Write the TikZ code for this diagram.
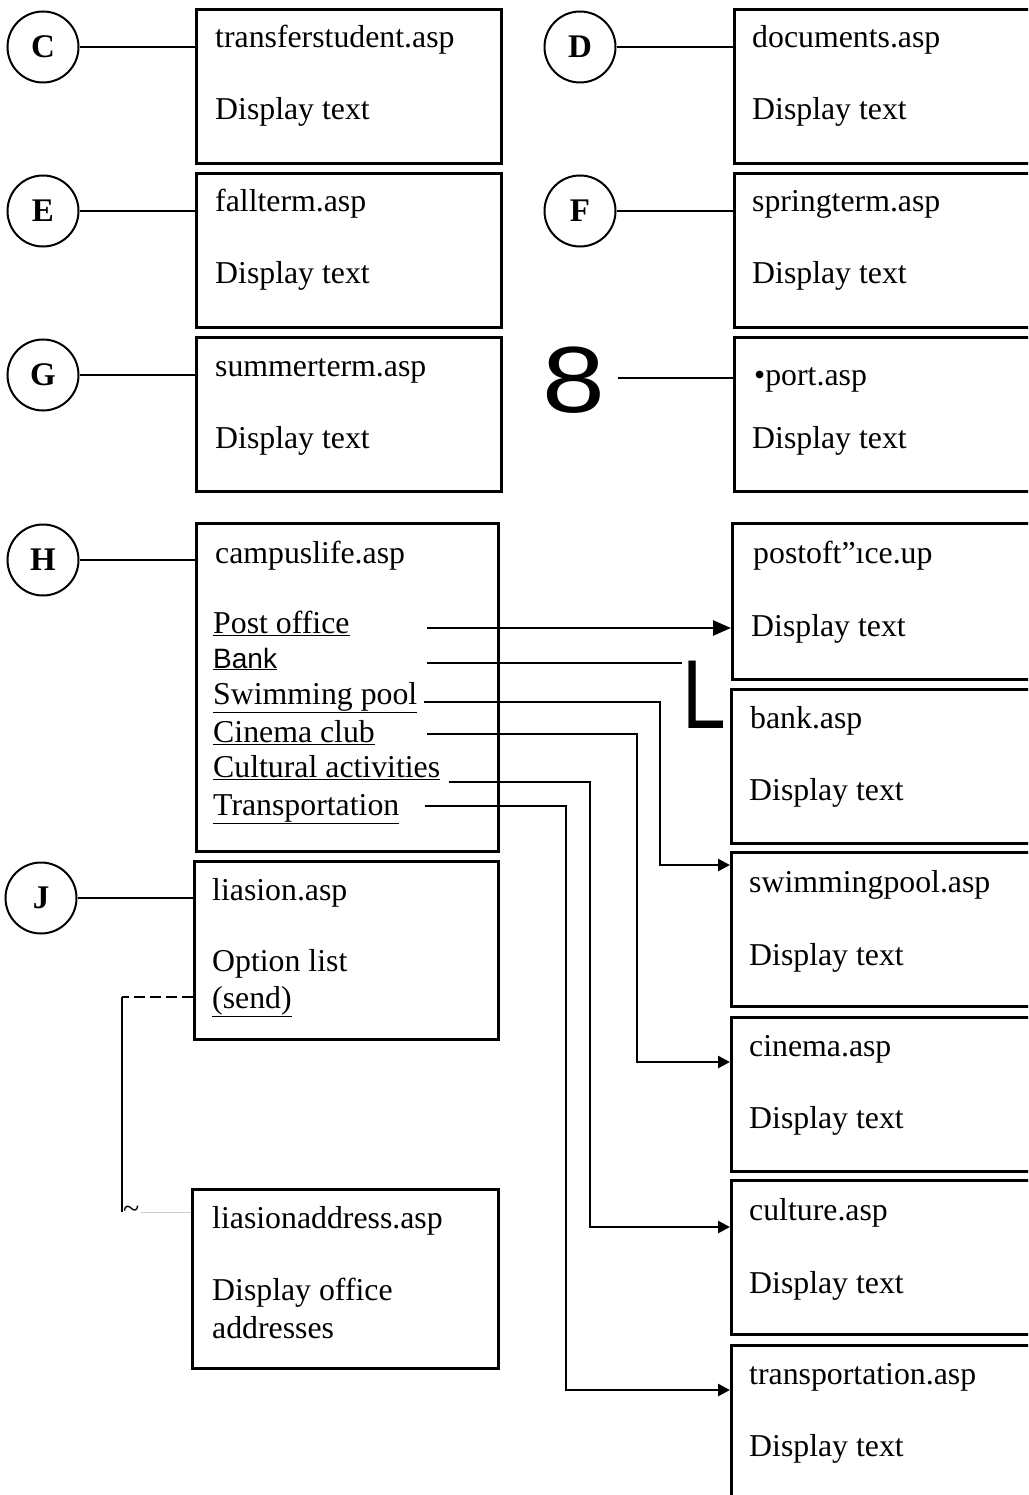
\documentclass[tikz,border=0pt]{standalone}
\usepackage{fontspec}
\setmainfont{Liberation Serif}
\setsansfont{Liberation Sans}
\usetikzlibrary{arrows.meta, positioning}

\begin{document}
\begin{tikzpicture}[
    x=1pt, y=-1pt,
    pagebox/.style={rectangle, draw, line width=2.8pt, anchor=north west, inner sep=0pt, minimum width=305pt, minimum height=154pt},
    sidebox/.style={pagebox, minimum width=340pt},
    circ/.style={circle, draw, line width=2pt, minimum size=71pt, inner sep=0pt, font=\fontsize{33}{33}\selectfont\bfseries},
    pagetext/.style={anchor=base west, inner sep=0pt, font=\fontsize{31.8}{36}\selectfont},
    bigsans/.style={anchor=base west, inner sep=0pt},
    link/.style={line width=2.6pt},
    arrow/.style={link, -{Triangle[length=18pt, width=15pt]}},
    smallarrow/.style={link, -{Triangle[length=12pt, width=12pt]}}
]
    \useasboundingbox (0,0) rectangle (1028,1495);
    \clip (0,0) rectangle (1028,1495);

    % left column
    \node[pagebox] (cbox) at (195,8) {};
    \node[pagetext] (ctitle) at ([shift={(20,40)}]cbox.north west) {transferstudent.asp};
    \node[pagetext] (ctext) at ([shift={(20,112)}]cbox.north west) {Display text};
    \node[pagebox] (ebox) at (195,172) {};
    \node[pagetext] (etitle) at ([shift={(20,40)}]ebox.north west) {fallterm.asp};
    \node[pagetext] (etext) at ([shift={(20,112)}]ebox.north west) {Display text};
    \node[pagebox] (gbox) at (195,336) {};
    \node[pagetext] (gtitle) at ([shift={(20,40)}]gbox.north west) {summerterm.asp};
    \node[pagetext] (gtext) at ([shift={(20,112)}]gbox.north west) {Display text};
    \node[pagebox, minimum width=302pt, minimum height=328pt] (hbox) at (195,522) {};
    \node[pagetext] (htitle) at ([shift={(20,41)}]hbox.north west) {campuslife.asp};
    \node[pagetext] (itpo) at ([shift={(18,111)}]hbox.north west) {\underline{Post office}};
    \node[pagetext, font=\fontsize{28}{32}\sffamily] (itbank) at ([shift={(18,146)}]hbox.north west) {\underline{Bank}};
    \node[pagetext] (itswim) at ([shift={(18,182)}]hbox.north west) {\underline{Swimming pool}};
    \node[pagetext] (itcin) at ([shift={(18,220)}]hbox.north west) {\underline{Cinema club}};
    \node[pagetext] (itcul) at ([shift={(18,255)}]hbox.north west) {\underline{Cultural activities}};
    \node[pagetext] (ittr) at ([shift={(18,293)}]hbox.north west) {\underline{Transportation}};
    \node[pagebox, minimum width=304pt, minimum height=178pt] (jbox) at (193,860) {};
    \node[pagetext] (jtitle) at ([shift={(19,40)}]jbox.north west) {liasion.asp};
    \node[pagetext] (jtext) at ([shift={(19,111)}]jbox.north west) {Option list};
    \node[pagetext] (send) at ([shift={(19,148)}]jbox.north west) {\underline{(send)}};
    \node[pagebox, minimum width=306pt, minimum height=179pt] (abox) at (191,1188) {};
    \node[pagetext] (atitle) at ([shift={(21,40)}]abox.north west) {liasionaddress.asp};
    \node[pagetext] (atext) at ([shift={(21,112)}]abox.north west) {Display office};
    \node[pagetext] (atext2) at ([shift={(21,150)}]abox.north west) {addresses};

    % right column
    \node[sidebox] (dbox) at (733,8) {};
    \node[pagetext] (dtitle) at ([shift={(19,40)}]dbox.north west) {documents.asp};
    \node[pagetext] (dtext) at ([shift={(19,112)}]dbox.north west) {Display text};
    \node[sidebox] (fbox) at (733,172) {};
    \node[pagetext] (ftitle) at ([shift={(19,40)}]fbox.north west) {springterm.asp};
    \node[pagetext] (ftext) at ([shift={(19,112)}]fbox.north west) {Display text};
    \node[sidebox] (portbox) at (733,336) {};
    \node[pagetext] (porttitle) at ([shift={(21,49)}]portbox.north west) {•port.asp};
    \node[pagetext] (porttext) at ([shift={(19,112)}]portbox.north west) {Display text};
    \node[sidebox, minimum height=156pt] (pobox) at (731,522) {};
    \node[pagetext] (potitle) at ([shift={(22,41)}]pobox.north west) {postoft”ıce.up};
    \node[pagetext] (potext) at ([shift={(20,114)}]pobox.north west) {Display text};
    \node[sidebox] (bankbox) at (730,688) {};
    \node[pagetext] (banktitle) at ([shift={(20,40)}]bankbox.north west) {bank.asp};
    \node[pagetext] (banktext) at ([shift={(19,112)}]bankbox.north west) {Display text};
    \node[sidebox] (swimbox) at (730,851) {};
    \node[pagetext] (swimtitle) at ([shift={(19,41)}]swimbox.north west) {swimmingpool.asp};
    \node[pagetext] (swimtext) at ([shift={(19,114)}]swimbox.north west) {Display text};
    \node[sidebox] (cinbox) at (730,1016) {};
    \node[pagetext] (cintitle) at ([shift={(19,40)}]cinbox.north west) {cinema.asp};
    \node[pagetext] (cintext) at ([shift={(19,112)}]cinbox.north west) {Display text};
    \node[sidebox] (culbox) at (730,1179) {};
    \node[pagetext] (cultitle) at ([shift={(19,41)}]culbox.north west) {culture.asp};
    \node[pagetext] (cultext) at ([shift={(19,114)}]culbox.north west) {Display text};
    \node[sidebox, minimum height=170pt] (trbox) at (730,1344) {};
    \node[pagetext] (trtitle) at ([shift={(19,40)}]trbox.north west) {transportation.asp};
    \node[pagetext] (trtext) at ([shift={(19,112)}]trbox.north west) {Display text};

    % circles
    \node[circ] (cc) at (43,47) {C};
    \node[circ] (cd) at (580,47) {D};
    \node[circ] (ce) at (43,211) {E};
    \node[circ] (cf) at (580,211) {F};
    \node[circ] (cg) at (43,375) {G};
    \node[circ] (ch) at (43,560) {H};
    \node[circ] (cj) at (41,898) {J};
    \node[bigsans, font=\fontsize{94}{94}\sffamily] (eight) at (542,412) {\scalebox{1.2}[1]{8}};
    \node[bigsans, font=\fontsize{98}{98}\sffamily] (bankL) at (682,728) {\scalebox{0.8}[1]{L}};

    \draw[link] (cc) -- (cc -| cbox.west);
    \draw[link] (cd) -- (cd -| dbox.west);
    \draw[link] (ce) -- (ce -| ebox.west);
    \draw[link] (cf) -- (cf -| fbox.west);
    \draw[link] (cg) -- (cg -| gbox.west);
    \draw[link] (ch) -- (ch -| hbox.west);
    \draw[link] (cj) -- (cj -| jbox.west);
    \coordinate (port-out) at (618,378);
    \draw[link] (port-out) -- (port-out -| portbox.west);

    % campus links
    \coordinate (po-out) at (427,628);
    \coordinate (bank-out) at (427,663);
    \coordinate (sw-out) at (424,702);
    \coordinate (cin-out) at (427,734);
    \coordinate (cul-out) at (449,782);
    \coordinate (tr-out) at (425,806);
    \draw[arrow] (po-out) -- (po-out -| pobox.west);
    \draw[link] (bank-out) -- (bank-out -| bankL.west);
    \draw[smallarrow] (sw-out) -- ++(236,0) |- ([yshift=-14pt]swimbox.north west);
    \draw[smallarrow] (cin-out) -- ++(210,0) |- ([yshift=-46pt]cinbox.north west);
    \draw[smallarrow] (cul-out) -- ++(141,0) |- ([yshift=-48pt]culbox.north west);
    \draw[smallarrow] (tr-out) -- ++(141,0) |- ([yshift=-46pt]trbox.north west);

    % liaison links
    \coordinate (jturn) at (122,997);
    \coordinate (jdrop) at (122,1212);
    \draw[link, dash pattern=on 11pt off 5pt] (jbox.west |- jturn) -- (jturn);
    \draw[link, line width=2pt] (jturn) -- (jdrop);
    \node[anchor=west, inner sep=1pt, font=\fontsize{30}{30}\selectfont] (tilde) at (jdrop) {\textasciitilde};
    \draw[gray!40, line width=1pt] (tilde) -- (tilde -| abox.west);
\end{tikzpicture}
\end{document}
